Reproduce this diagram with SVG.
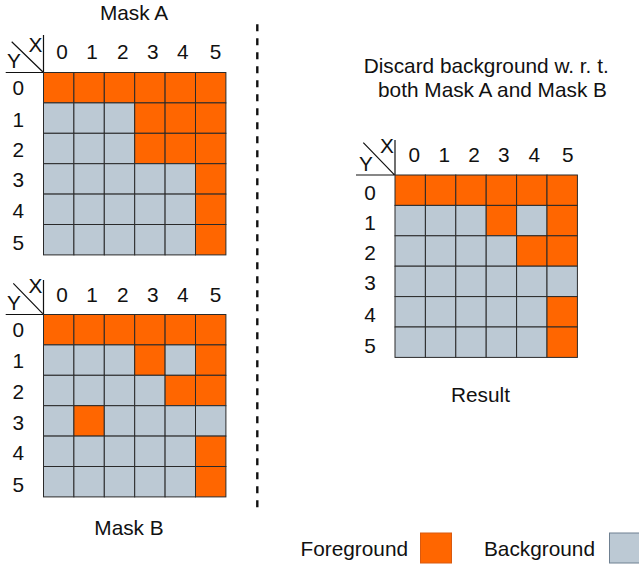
<svg xmlns="http://www.w3.org/2000/svg" width="639" height="568" viewBox="0 0 639 568">
<style>
text{font-family:"Liberation Sans",Arial,sans-serif;font-size:20.8px;fill:#111}
.m{text-anchor:middle}
.o{fill:#FF6600;stroke:#2a2a2a;stroke-width:1}
.g{fill:#BCC9D4;stroke:#2a2a2a;stroke-width:1}
.ax{stroke:#111;stroke-width:1.2;fill:none}
</style>
<rect width="639" height="568" fill="#fff"/>

<g id="maskA">
<text class="m" x="134" y="20">Mask A</text>
<path class="ax" d="M43.5 35V72.5M5.7 72.5H43.5M11.7 41.7L42.7 71.7"/>
<text class="m" x="35.5" y="51.7">X</text>
<text class="m" x="14" y="68.3">Y</text>
<text class="m" x="62" y="59.3">0</text><text class="m" x="92" y="59.3">1</text><text class="m" x="122.7" y="59.3">2</text><text class="m" x="152.7" y="59.3">3</text><text class="m" x="182.7" y="59.3">4</text><text class="m" x="215.5" y="59.3">5</text>
<text class="m" x="18.3" y="95">0</text><text class="m" x="18.3" y="126.7">1</text><text class="m" x="18.3" y="156.7">2</text><text class="m" x="18.3" y="186.7">3</text><text class="m" x="18.3" y="218">4</text><text class="m" x="18.3" y="250">5</text>
<g transform="translate(43.5,72.5)">
<rect class="o" x="0" y="0" width="30.4" height="30.4"/><rect class="o" x="30.4" y="0" width="30.4" height="30.4"/><rect class="o" x="60.8" y="0" width="30.4" height="30.4"/><rect class="o" x="91.2" y="0" width="30.4" height="30.4"/><rect class="o" x="121.6" y="0" width="30.4" height="30.4"/><rect class="o" x="152" y="0" width="30.4" height="30.4"/>
<rect class="g" x="0" y="30.4" width="30.4" height="30.4"/><rect class="g" x="30.4" y="30.4" width="30.4" height="30.4"/><rect class="g" x="60.8" y="30.4" width="30.4" height="30.4"/><rect class="o" x="91.2" y="30.4" width="30.4" height="30.4"/><rect class="o" x="121.6" y="30.4" width="30.4" height="30.4"/><rect class="o" x="152" y="30.4" width="30.4" height="30.4"/>
<rect class="g" x="0" y="60.8" width="30.4" height="30.4"/><rect class="g" x="30.4" y="60.8" width="30.4" height="30.4"/><rect class="g" x="60.8" y="60.8" width="30.4" height="30.4"/><rect class="o" x="91.2" y="60.8" width="30.4" height="30.4"/><rect class="o" x="121.6" y="60.8" width="30.4" height="30.4"/><rect class="o" x="152" y="60.8" width="30.4" height="30.4"/>
<rect class="g" x="0" y="91.2" width="30.4" height="30.4"/><rect class="g" x="30.4" y="91.2" width="30.4" height="30.4"/><rect class="g" x="60.8" y="91.2" width="30.4" height="30.4"/><rect class="g" x="91.2" y="91.2" width="30.4" height="30.4"/><rect class="g" x="121.6" y="91.2" width="30.4" height="30.4"/><rect class="o" x="152" y="91.2" width="30.4" height="30.4"/>
<rect class="g" x="0" y="121.6" width="30.4" height="30.4"/><rect class="g" x="30.4" y="121.6" width="30.4" height="30.4"/><rect class="g" x="60.8" y="121.6" width="30.4" height="30.4"/><rect class="g" x="91.2" y="121.6" width="30.4" height="30.4"/><rect class="g" x="121.6" y="121.6" width="30.4" height="30.4"/><rect class="o" x="152" y="121.6" width="30.4" height="30.4"/>
<rect class="g" x="0" y="152" width="30.4" height="30.4"/><rect class="g" x="30.4" y="152" width="30.4" height="30.4"/><rect class="g" x="60.8" y="152" width="30.4" height="30.4"/><rect class="g" x="91.2" y="152" width="30.4" height="30.4"/><rect class="g" x="121.6" y="152" width="30.4" height="30.4"/><rect class="o" x="152" y="152" width="30.4" height="30.4"/>
</g>
</g>

<g id="maskB">
<text class="m" x="129" y="535">Mask B</text>
<path class="ax" d="M43.5 280V314.5M5.7 314.5H43.5M13.3 283.3L42.7 313.7"/>
<text class="m" x="35.5" y="293">X</text>
<text class="m" x="14" y="310">Y</text>
<text class="m" x="62" y="301.7">0</text><text class="m" x="92" y="301.7">1</text><text class="m" x="122.7" y="301.7">2</text><text class="m" x="152.7" y="301.7">3</text><text class="m" x="182.7" y="301.7">4</text><text class="m" x="215.5" y="301.7">5</text>
<text class="m" x="18.3" y="337.3">0</text><text class="m" x="18.3" y="368.3">1</text><text class="m" x="18.3" y="399.3">2</text><text class="m" x="18.3" y="430">3</text><text class="m" x="18.3" y="460">4</text><text class="m" x="18.3" y="491.7">5</text>
<g transform="translate(43.5,314.5)">
<rect class="o" x="0" y="0" width="30.4" height="30.4"/><rect class="o" x="30.4" y="0" width="30.4" height="30.4"/><rect class="o" x="60.8" y="0" width="30.4" height="30.4"/><rect class="o" x="91.2" y="0" width="30.4" height="30.4"/><rect class="o" x="121.6" y="0" width="30.4" height="30.4"/><rect class="o" x="152" y="0" width="30.4" height="30.4"/>
<rect class="g" x="0" y="30.4" width="30.4" height="30.4"/><rect class="g" x="30.4" y="30.4" width="30.4" height="30.4"/><rect class="g" x="60.8" y="30.4" width="30.4" height="30.4"/><rect class="o" x="91.2" y="30.4" width="30.4" height="30.4"/><rect class="g" x="121.6" y="30.4" width="30.4" height="30.4"/><rect class="o" x="152" y="30.4" width="30.4" height="30.4"/>
<rect class="g" x="0" y="60.8" width="30.4" height="30.4"/><rect class="g" x="30.4" y="60.8" width="30.4" height="30.4"/><rect class="g" x="60.8" y="60.8" width="30.4" height="30.4"/><rect class="g" x="91.2" y="60.8" width="30.4" height="30.4"/><rect class="o" x="121.6" y="60.8" width="30.4" height="30.4"/><rect class="o" x="152" y="60.8" width="30.4" height="30.4"/>
<rect class="g" x="0" y="91.2" width="30.4" height="30.4"/><rect class="o" x="30.4" y="91.2" width="30.4" height="30.4"/><rect class="g" x="60.8" y="91.2" width="30.4" height="30.4"/><rect class="g" x="91.2" y="91.2" width="30.4" height="30.4"/><rect class="g" x="121.6" y="91.2" width="30.4" height="30.4"/><rect class="g" x="152" y="91.2" width="30.4" height="30.4"/>
<rect class="g" x="0" y="121.6" width="30.4" height="30.4"/><rect class="g" x="30.4" y="121.6" width="30.4" height="30.4"/><rect class="g" x="60.8" y="121.6" width="30.4" height="30.4"/><rect class="g" x="91.2" y="121.6" width="30.4" height="30.4"/><rect class="g" x="121.6" y="121.6" width="30.4" height="30.4"/><rect class="o" x="152" y="121.6" width="30.4" height="30.4"/>
<rect class="g" x="0" y="152" width="30.4" height="30.4"/><rect class="g" x="30.4" y="152" width="30.4" height="30.4"/><rect class="g" x="60.8" y="152" width="30.4" height="30.4"/><rect class="g" x="91.2" y="152" width="30.4" height="30.4"/><rect class="g" x="121.6" y="152" width="30.4" height="30.4"/><rect class="o" x="152" y="152" width="30.4" height="30.4"/>
</g>
</g>

<g id="divider">
<line x1="257.3" y1="24.3" x2="257.3" y2="512" stroke="#111" stroke-width="2.4" stroke-dasharray="7 7"/>
</g>

<g id="result">
<text class="m" x="486.2" y="73.3">Discard background w. r. t.</text>
<text class="m" x="492.5" y="96.7">both Mask A and Mask B</text>
<text class="m" x="480.5" y="401.7">Result</text>
<path class="ax" d="M395 140V175M356 175H395M363.3 142.7L394 174.3"/>
<text class="m" x="387" y="153">X</text>
<text class="m" x="366" y="170.7">Y</text>
<text class="m" x="414.3" y="161.7">0</text><text class="m" x="444.3" y="161.7">1</text><text class="m" x="474" y="161.7">2</text><text class="m" x="503.7" y="161.7">3</text><text class="m" x="534.3" y="161.7">4</text><text class="m" x="567.7" y="161.7">5</text>
<text class="m" x="370" y="200">0</text><text class="m" x="370" y="230">1</text><text class="m" x="370" y="260">2</text><text class="m" x="370" y="290">3</text><text class="m" x="370" y="321.7">4</text><text class="m" x="370" y="353.3">5</text>
<g transform="translate(395,175)">
<rect class="o" x="0" y="0" width="30.4" height="30.4"/><rect class="o" x="30.4" y="0" width="30.4" height="30.4"/><rect class="o" x="60.8" y="0" width="30.4" height="30.4"/><rect class="o" x="91.2" y="0" width="30.4" height="30.4"/><rect class="o" x="121.6" y="0" width="30.4" height="30.4"/><rect class="o" x="152" y="0" width="30.4" height="30.4"/>
<rect class="g" x="0" y="30.4" width="30.4" height="30.4"/><rect class="g" x="30.4" y="30.4" width="30.4" height="30.4"/><rect class="g" x="60.8" y="30.4" width="30.4" height="30.4"/><rect class="o" x="91.2" y="30.4" width="30.4" height="30.4"/><rect class="g" x="121.6" y="30.4" width="30.4" height="30.4"/><rect class="o" x="152" y="30.4" width="30.4" height="30.4"/>
<rect class="g" x="0" y="60.8" width="30.4" height="30.4"/><rect class="g" x="30.4" y="60.8" width="30.4" height="30.4"/><rect class="g" x="60.8" y="60.8" width="30.4" height="30.4"/><rect class="g" x="91.2" y="60.8" width="30.4" height="30.4"/><rect class="o" x="121.6" y="60.8" width="30.4" height="30.4"/><rect class="o" x="152" y="60.8" width="30.4" height="30.4"/>
<rect class="g" x="0" y="91.2" width="30.4" height="30.4"/><rect class="g" x="30.4" y="91.2" width="30.4" height="30.4"/><rect class="g" x="60.8" y="91.2" width="30.4" height="30.4"/><rect class="g" x="91.2" y="91.2" width="30.4" height="30.4"/><rect class="g" x="121.6" y="91.2" width="30.4" height="30.4"/><rect class="g" x="152" y="91.2" width="30.4" height="30.4"/>
<rect class="g" x="0" y="121.6" width="30.4" height="30.4"/><rect class="g" x="30.4" y="121.6" width="30.4" height="30.4"/><rect class="g" x="60.8" y="121.6" width="30.4" height="30.4"/><rect class="g" x="91.2" y="121.6" width="30.4" height="30.4"/><rect class="g" x="121.6" y="121.6" width="30.4" height="30.4"/><rect class="o" x="152" y="121.6" width="30.4" height="30.4"/>
<rect class="g" x="0" y="152" width="30.4" height="30.4"/><rect class="g" x="30.4" y="152" width="30.4" height="30.4"/><rect class="g" x="60.8" y="152" width="30.4" height="30.4"/><rect class="g" x="91.2" y="152" width="30.4" height="30.4"/><rect class="g" x="121.6" y="152" width="30.4" height="30.4"/><rect class="o" x="152" y="152" width="30.4" height="30.4"/>
</g>
</g>

<g id="legend">
<text x="300.5" y="556">Foreground</text>
<rect x="420.5" y="533" width="31" height="30" fill="#FF6600" stroke="#D95A10" stroke-width="1"/>
<text x="484" y="556">Background</text>
<rect x="609.5" y="533" width="35" height="30" fill="#BCC9D4" stroke="#6F8091" stroke-width="1"/>
</g>
</svg>
